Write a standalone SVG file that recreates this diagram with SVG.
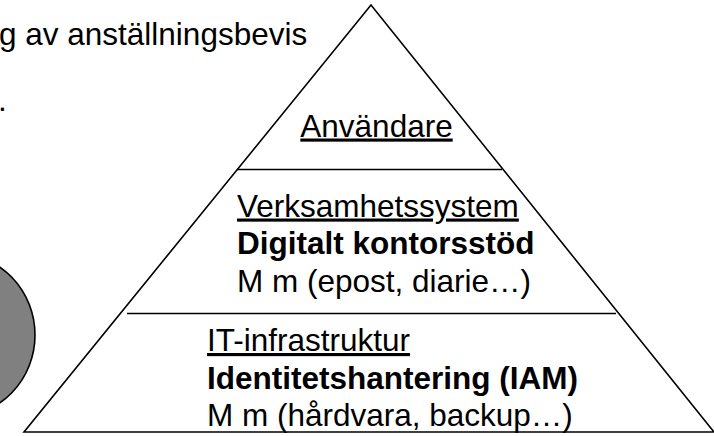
<svg xmlns="http://www.w3.org/2000/svg" width="714" height="436" viewBox="0 0 714 436">
<style>
  .t { font-family: "Liberation Sans", Arial, sans-serif; font-size: 31.5px; fill: #000; }
  .b { font-weight: bold; }
  .u { text-decoration: underline; }
  .ln { stroke: #000; stroke-width: 1.6; fill: none; }
</style>
<rect width="714" height="436" fill="#fff"/>
<g id="caption">
  <text class="t" x="-1" y="45">g av anställningsbevis</text>
  <text class="t" x="-2" y="111">.</text>
</g>
<g id="ellipse">
  <ellipse cx="-45" cy="335" rx="80" ry="82" fill="#808080" stroke="#000" stroke-width="1.6"/>
</g>
<g id="pyramid">
  <polygon class="ln" points="371,5 24,432 714,432"/>
</g>
<g id="connectors">
  <line class="ln" x1="237" y1="169.5" x2="502" y2="169.5"/>
  <line class="ln" x1="127" y1="313.5" x2="616" y2="313.5"/>
</g>
<g id="level-anvandare">
  <text class="t u" x="376.5" y="136.5" text-anchor="middle">Användare</text>
</g>
<g id="level-verksamhetssystem">
  <text class="t u" x="237" y="216.5">Verksamhetssystem</text>
  <text class="t b" x="237" y="254">Digitalt kontorsstöd</text>
  <text class="t" x="237" y="291.5">M m (epost, diarie…)</text>
</g>
<g id="level-it-infrastruktur">
  <text class="t u" x="207" y="351">IT-infrastruktur</text>
  <text class="t b" x="207" y="388.5">Identitetshantering (IAM)</text>
  <text class="t" x="207" y="426">M m (hårdvara, backup…)</text>
</g>
</svg>
